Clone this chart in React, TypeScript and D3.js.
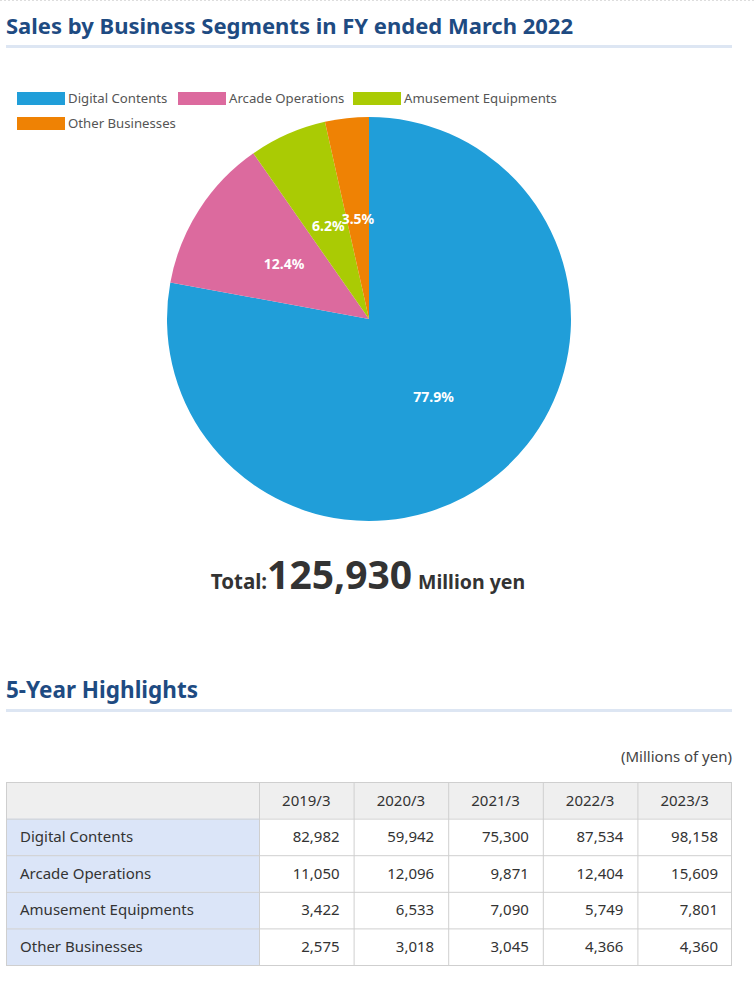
import React from "react";
import * as d3 from "d3";

const segments = ["Digital Contents", "Arcade Operations", "Amusement Equipments", "Other Businesses"];
const shares = [77.9, 12.4, 6.2, 3.5];
const colors = ["#209ed9", "#dc6a9e", "#aacb04", "#ef8204"];
const years = ["2019/3", "2020/3", "2021/3", "2022/3", "2023/3"];
const digital = [82982, 59942, 75300, 87534, 98158];
const arcade = [11050, 12096, 9871, 12404, 15609];
const amusement = [3422, 6533, 7090, 5749, 7801];
const other = [2575, 3018, 3045, 4366, 4360];
const totalSales = 125930;

const FONT = "'Noto Sans', 'Open Sans', sans-serif";

export default function App() {
  const W = 756, H = 991;
  const cx = 369, cy = 319, R = 202;
  const pie = d3.pie<number>().value((d) => d).sort(null)(shares);
  const arc = d3.arc<d3.PieArcDatum<number>>().innerRadius(0).outerRadius(R);
  const fmt = d3.format(",");
  const rows = [digital, arcade, amusement, other];

  // table layout
  const tx = 6, tw = 726, firstW = 253;
  const colScale = d3.scaleBand<string>().domain(years).range([tx + firstW, tx + tw]);
  const rowKeys = ["h", ...segments];
  const rowScale = d3.scaleBand<string>().domain(rowKeys).range([782, 965]);

  const legendPos = [
    { x: 17, y: 92 },
    { x: 178, y: 92 },
    { x: 353, y: 92 },
    { x: 17, y: 117 },
  ];

  return (
    <svg width={W} height={H} style={{ position: "absolute", left: 0, top: 0, background: "#fff" }} fontFamily={FONT}>
      <line x1={0} x2={W} y1={0.5} y2={0.5} stroke="#ddd" strokeDasharray="2,2" />
      <text x={6} y={34} fontSize={21.5} fontWeight={700} fill="#1e4b82" textLength={567} lengthAdjust="spacingAndGlyphs">
        Sales by Business Segments in FY ended March 2022
      </text>
      <rect x={6} y={45} width={726} height={3} fill="#dde6f3" />

      {segments.map((s, i) => (
        <g key={s}>
          <rect x={legendPos[i].x} y={legendPos[i].y} width={48} height={13} fill={colors[i]} />
          <text x={legendPos[i].x + 51} y={legendPos[i].y + 11} fontSize={13.2} fill="#555">{s}</text>
        </g>
      ))}

      <g transform={`translate(${cx},${cy})`}>
        {pie.map((p, i) => (
          <path key={i} d={arc(p) || ""} fill={colors[i]} />
        ))}
        {pie.map((p, i) => {
          const [x, y] = arc.centroid(p);
          return (
            <text key={"l" + i} x={x} y={y} dy="0.35em" textAnchor="middle" fontSize={14} fontWeight={700} fill="#fff">
              {shares[i].toFixed(1)}%
            </text>
          );
        })}
      </g>

      <text x={368} y={589} textAnchor="middle" fill="#333" fontWeight={700}>
        <tspan fontSize={20.5}>Total:</tspan>
        <tspan fontSize={39}>{fmt(totalSales)}</tspan>
        <tspan fontSize={19.5} dx={6}>Million yen</tspan>
      </text>

      <text x={6} y={698} fontSize={22.5} fontWeight={700} fill="#1e4b82">5-Year Highlights</text>
      <rect x={6} y={709} width={726} height={3} fill="#dde6f3" />

      <text x={732} y={762} textAnchor="end" fontSize={15} fill="#444">(Millions of yen)</text>

      {/* table */}
      <rect x={tx} y={rowScale("h")!} width={tw} height={rowScale.bandwidth()} fill="#efefef" />
      {segments.map((s) => (
        <rect key={"bg" + s} x={tx} y={rowScale(s)!} width={firstW} height={rowScale.bandwidth()} fill="#dbe5f8" />
      ))}
      {rowKeys.map((k) => (
        <line key={"hl" + k} x1={tx} x2={tx + tw} y1={rowScale(k)! + 0.5} y2={rowScale(k)! + 0.5} stroke="#cfcfcf" />
      ))}
      <line x1={tx} x2={tx + tw} y1={965.5} y2={965.5} stroke="#cfcfcf" />
      <line x1={tx + 0.5} x2={tx + 0.5} y1={782} y2={966} stroke="#cfcfcf" />
      {years.map((y) => (
        <line key={"vl" + y} x1={colScale(y)! + 0.5} x2={colScale(y)! + 0.5} y1={782} y2={966} stroke="#cfcfcf" />
      ))}
      <line x1={tx + tw - 0.5} x2={tx + tw - 0.5} y1={782} y2={966} stroke="#cfcfcf" />

      {years.map((y) => (
        <text key={"yh" + y} x={colScale(y)! + colScale.bandwidth() / 2} y={rowScale("h")! + rowScale.bandwidth() / 2} dy="0.35em" textAnchor="middle" fontSize={15} fill="#333">
          {y}
        </text>
      ))}
      {segments.map((s, ri) => (
        <g key={"row" + s}>
          <text x={tx + 14} y={rowScale(s)! + rowScale.bandwidth() / 2} dy="0.35em" fontSize={15} fill="#333">{s}</text>
          {years.map((y, ci) => (
            <text key={y} x={colScale(y)! + colScale.bandwidth() - 14} y={rowScale(s)! + rowScale.bandwidth() / 2} dy="0.35em" textAnchor="end" fontSize={15} fill="#333">
              {fmt(rows[ri][ci])}
            </text>
          ))}
        </g>
      ))}
    </svg>
  );
}
